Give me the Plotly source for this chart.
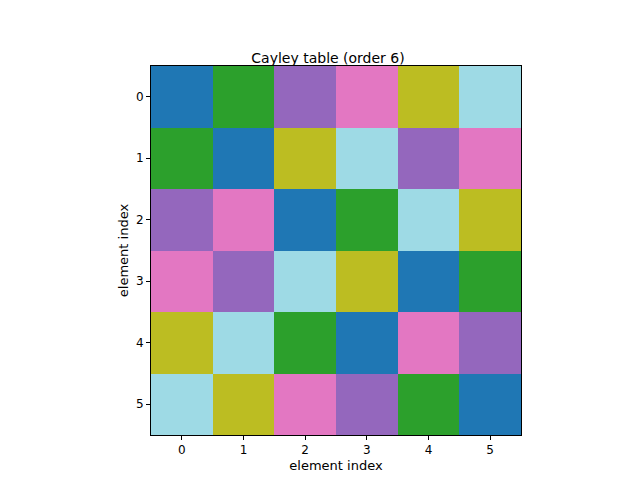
import plotly.graph_objects as go

elements = [0, 1, 2, 3, 4, 5]
table = [
    [0, 1, 2, 3, 4, 5],
    [1, 0, 4, 5, 2, 3],
    [2, 3, 0, 1, 5, 4],
    [3, 2, 5, 4, 0, 1],
    [4, 5, 1, 0, 3, 2],
    [5, 4, 3, 2, 1, 0],
]
colors = ["#1f77b4", "#2ca02c", "#9467bd", "#e377c2", "#bcbd22", "#9edae5"]

# discrete colour steps
scale = []
n = len(colors)
for i, c in enumerate(colors):
    scale.append([i / n, c])
    scale.append([(i + 1) / n, c])

fig = go.Figure(go.Heatmap(z=table, x=elements, y=elements, colorscale=scale,
                           zmin=-0.5, zmax=5.5, showscale=False, hoverinfo="z"))

axis = dict(showgrid=False, zeroline=False, showline=True, linecolor="black", mirror=True,
            ticks="outside", ticklen=4, tickcolor="black", tickmode="array", tickvals=elements,
            title_font=dict(size=13), tickfont=dict(size=12))
fig.update_layout(
    width=640, height=480,
    margin=dict(l=143, r=127, t=58, b=53),
    paper_bgcolor="white", plot_bgcolor="white",
    font=dict(family="DejaVu Sans", color="black"),
    title=dict(text="Cayley table (order 6)", x=0.5, xanchor="center", y=0.905, font=dict(size=14)),
    xaxis=dict(axis, title=dict(text="element index", standoff=4), range=[-0.5, 5.5]),
    yaxis=dict(axis, title=dict(text="element index", standoff=4), range=[5.5, -0.5]),
)
fig.write_html("out.html")
